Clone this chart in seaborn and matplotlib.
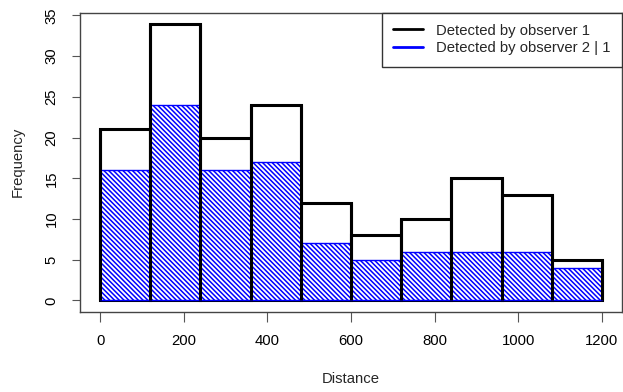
import matplotlib
matplotlib.use("Agg")
from matplotlib import pyplot as plt
from matplotlib.lines import Line2D
import seaborn as sns
import numpy as np

# histogram data (bin width 120)
bin_edges = [0, 120, 240, 360, 480, 600, 720, 840, 960, 1080, 1200]
obs1_counts = [21, 34, 20, 24, 12, 8, 10, 15, 13, 5]
obs2_counts = [16, 24, 16, 17, 7, 5, 6, 6, 6, 4]
x_ticks = [0, 200, 400, 600, 800, 1000, 1200]
y_ticks = [0, 5, 10, 15, 20, 25, 30, 35]
legend_labels = ["Detected by observer 1", "Detected by observer 2 | 1"]

sns.set_style("white")
plt.rcParams["font.family"] = ["Liberation Sans", "DejaVu Sans"]
plt.rcParams["hatch.linewidth"] = 1.1
plt.rcParams["hatch.color"] = "blue"
fs = 10.7

mids = [(a + b) / 2 for a, b in zip(bin_edges[:-1], bin_edges[1:])]

fig = plt.figure(figsize=(6.23, 3.92), dpi=100)
ax = fig.add_axes([80 / 623, 80.5 / 392, 542 / 623, 299 / 392])

# observer 1: white bars, thick black outline
sns.histplot(x=mids, weights=obs1_counts, bins=bin_edges, ax=ax,
             color="white", edgecolor="black", linewidth=2.2, alpha=1)
# observer 2 | 1: blue hatched bars
sns.histplot(x=mids, weights=obs2_counts, bins=bin_edges, ax=ax,
             facecolor="white", edgecolor="blue", linewidth=1.0, alpha=1,
             hatch="\\" * 7)

# black bin boundaries on top (as in the observer 1 outline)
ax.vlines(bin_edges, 0, [max(l, r) for l, r in zip([0] + obs1_counts, obs1_counts + [0])],
          color="black", linewidth=2.2, zorder=3)

ax.set_xlim(-48, 1248)
ax.set_ylim(-1.36, 35.36)
ax.set_xticks(x_ticks)
ax.set_yticks(y_ticks)
ax.set_yticklabels([str(v) for v in y_ticks], rotation=90, va="center")
ax.tick_params(axis="both", width=0.8, color="#555555",
               labelsize=fs, labelcolor="black", bottom=True, left=True,
               direction="out")
ax.tick_params(axis="x", length=7, pad=9.5)
ax.tick_params(axis="y", length=6, pad=9.5)
for s in ax.spines.values():
    s.set_color("#444444")
    s.set_linewidth(1.0)
ax.set_xlabel("Distance", fontsize=fs, labelpad=17)
ax.set_ylabel("Frequency", fontsize=fs, labelpad=14)

handles = [Line2D([0], [0], color="black", lw=2),
           Line2D([0], [0], color="blue", lw=2)]
leg = ax.legend(handles, legend_labels, loc="upper right", borderaxespad=0,
                fontsize=fs, fancybox=False, framealpha=1, handlelength=2.0,
                handletextpad=0.9, borderpad=0.75, labelspacing=0.25)
leg.get_frame().set_edgecolor("#333333")
leg.get_frame().set_linewidth(1.0)

fig.savefig("out.png", dpi=100)
